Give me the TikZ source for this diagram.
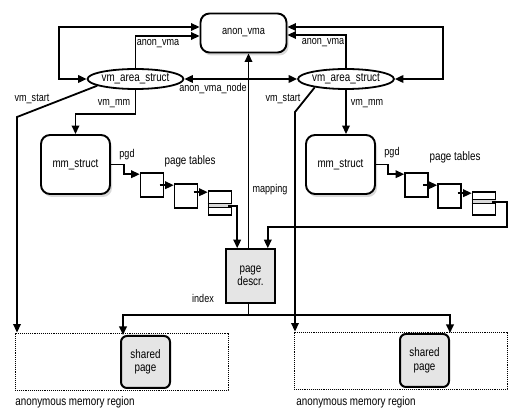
\documentclass[tikz,border=0pt]{standalone}
\usepackage{fontspec}
\setmainfont{Liberation Sans}[FakeStretch=0.8]
\usetikzlibrary{arrows.meta,shapes.geometric,shadows,calc}
\tikzset{
  conn/.style={line width=1.8pt, draw=black},
  arr/.style={-{Triangle[length=8.5pt,width=7.5pt]}},
  arrboth/.style={{Triangle[length=8.5pt,width=7.5pt]}-{Triangle[length=8.5pt,width=7.5pt]}},
  rbox/.style={draw, line width=1.9pt, rounded corners=9pt, fill=white, align=center,
    font=\fontsize{12.3}{14}\selectfont,
    drop shadow={opacity=0.3, shadow xshift=2pt, shadow yshift=-3pt}},
  ell/.style={draw, ellipse, line width=1.8pt, inner sep=0pt, fill=white, font=\fontsize{12.3}{14}\selectfont},
  ptab/.style={draw, line width=1.6pt, minimum width=23pt, minimum height=24pt, inner sep=0pt},
  gbox/.style={draw, line width=1.6pt, fill=black!10, align=center, font=\fontsize{12.3}{13.5}\selectfont},
  spage/.style={draw, line width=2pt, rounded corners=6pt, fill=black!10, align=center, font=\fontsize{12.3}{13.5}\selectfont},
  region/.style={draw, densely dotted, line width=0.9pt},
  lbl/.style={font=\fontsize{11.3}{13}\selectfont, inner sep=1pt},
  big/.style={font=\fontsize{12.3}{14}\selectfont, inner sep=1pt},
}
\begin{document}
\begin{tikzpicture}[x=1pt,y=-1pt]
\useasboundingbox (0,0) rectangle (525,419);
% regions
\node[region, minimum width=213pt, minimum height=57pt] (regl) at (121.5,361.5) {};
\node[region, minimum width=213pt, minimum height=57pt] (regr) at (400.5,360.5) {};
% main nodes
\node[rbox, minimum width=86pt, minimum height=39pt, font=\fontsize{11.5}{13}\selectfont] (anon) at (243.5,33) {anon\_vma};
\node[ell, minimum width=89pt, minimum height=20pt] (vl) at (135.5,79) {vm\_area\_struct};
\node[ell, minimum width=92pt, minimum height=20pt] (vr) at (346,79) {vm\_area\_struct};
\node[rbox, minimum width=69pt, minimum height=59pt] (mml) at (75.5,164.5) {mm\_struct};
\node[rbox, minimum width=69pt, minimum height=59pt] (mmr) at (340.5,164.5) {mm\_struct};
\node[gbox, minimum width=49pt, minimum height=54pt] (pd) at (250.5,276) {page\\descr.};
\node[spage, minimum width=49pt, minimum height=52pt] (sl) at (145.5,362) {shared\\page};
\node[spage, minimum width=49pt, minimum height=53pt] (sr) at (424.5,360.5) {shared\\page};
% page tables left
\node[ptab] (l1) at (152,185) {};
\node[ptab] (l2) at (186,196) {};
\node[ptab, minimum height=24pt] (l3) at (220,203) {};
\fill[black!15] ($(l3.north west)+(0.8,13)$) rectangle ($(l3.north east)+(-0.8,17)$);
\draw[line width=1.3pt] ($(l3.north west)+(0,13)$) -- ($(l3.north east)+(0,13)$);
\draw[line width=1.3pt] ($(l3.north west)+(0,17)$) -- ($(l3.north east)+(0,17)$);
% page tables right
\node[ptab] (r1) at (416.5,185) {};
\node[ptab] (r2) at (449.5,196) {};
\node[ptab, minimum height=23pt] (r3) at (484,203.5) {};
\fill[black!15] ($(r3.north west)+(0.8,8)$) rectangle ($(r3.north east)+(-0.8,12)$);
\draw[line width=1.3pt] ($(r3.north west)+(0,8)$) -- ($(r3.north east)+(0,8)$);
\draw[line width=1.3pt] ($(r3.north west)+(0,12)$) -- ($(r3.north east)+(0,12)$);
% coordinates
\coordinate (vsl) at (17,117);
\coordinate (vsr) at (295,112);
% connectors top
\draw[conn,arrboth] (vl.west) -- ++(-28,0) |- ([yshift=6pt]anon.west);
\draw[conn,arr] (vl.north) |- ([yshift=-3pt]anon.west);
\draw[conn,arrboth] (vr.east) -- ++(48,0) |- ([yshift=6pt]anon.east);
\draw[conn,arr] (vr.north) |- ([yshift=-2pt]anon.east);
\draw[conn,arrboth] (vl.east) -- (vr.west);
% vm_start
\draw[conn,arr] (vl.190) -- (vsl) -- (vsl |- regl.north);
\draw[conn,arr] (vr.195) -- (vsr) -- (vsr |- regr.north);
% vm_mm
\draw[conn,arr] (vl.south) -- ++(0,24) -| (mml.north);
\draw[conn,arr] (vr.south) -- (vr.south |- mmr.north);
% pgd
\draw[conn,arr] (mml.east) -- ++(13,0) |- ([yshift=-2pt]l1.north west);
\draw[conn,arr] (mmr.east) -- ++(12,0) |- ([yshift=-2pt]r1.north west);
% page table pointers
\draw[conn,arr] ($(l2.north west)+(-14,2)$) -- ($(l2.north west)+(0,2)$);
\draw[conn,arr] ($(l3.north west)+(-14,2)$) -- ($(l3.north west)+(0,2)$);
\draw[conn,arr] ($(r2.north west)+(-14,2)$) -- ($(r2.north west)+(0,2)$);
\draw[conn,arr] ($(r3.north west)+(-14,2)$) -- ($(r3.north west)+(0,2)$);
\draw[conn,arr] ($(l3.east)+(-4,3)$) -| ($(pd.north west)+(12,0)$);
\draw[conn,arr] ($(r3.east)+(-4,-1.5)$) -- ++(15,0) -- ++(0,25) -| ($(pd.north east)+(-8,0)$);
% mapping
\draw[conn,arr] ([xshift=-2pt]pd.north) -- ([xshift=-2pt]pd.north |- anon.south);
% index
\draw[conn,arr] ([xshift=-2pt]pd.south) -- ++(0,11) -| ([xshift=3pt]sl.north west);
\draw[conn,arr] ([xshift=-2pt]pd.south) -- ++(0,11) -| (sr.north east);
% labels
\node[lbl] (t1) at (158,44) {anon\_vma};
\node[lbl] (t2) at (323,43) {anon\_vma};
\node[lbl] (t3) at (213,89) {anon\_vma\_node};
\node[lbl] (t4) at (32,99) {vm\_start};
\node[lbl] (t5) at (283,99) {vm\_start};
\node[lbl] (t6) at (114,104) {vm\_mm};
\node[lbl] (t7) at (367,104) {vm\_mm};
\node[lbl] (t8) at (127,155) {pgd};
\node[lbl] (t9) at (392,153) {pgd};
\node[big] (t10) at (190,161) {page tables};
\node[big] (t11) at (455,157) {page tables};
\node[lbl] (t12) at (270,190) {mapping};
\node[lbl] (t13) at (203,298) {index};
\node[big] (t14) at (75,402) {anonymous memory region};
\node[big] (t15) at (356,402) {anonymous memory region};
\end{tikzpicture}
\end{document}
